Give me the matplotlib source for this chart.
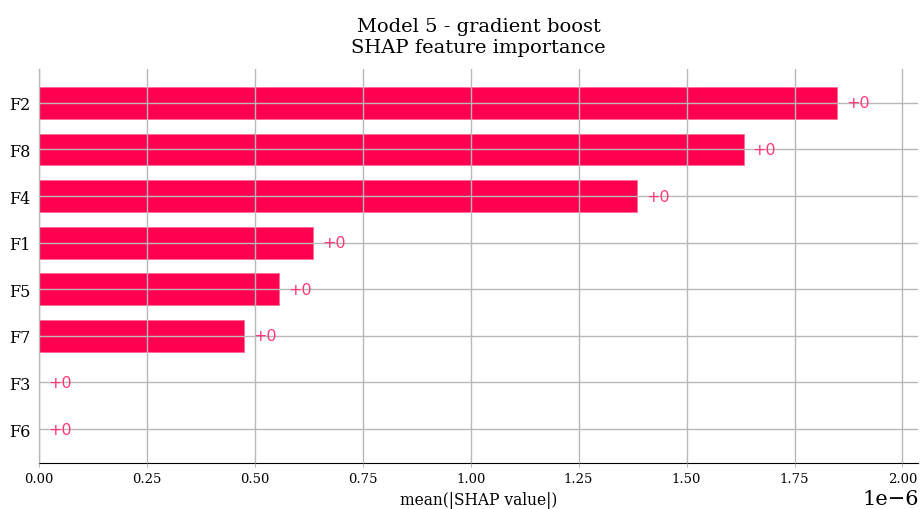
import matplotlib.pyplot as plt
import numpy as np

features = ['F2', 'F8', 'F4', 'F1', 'F5', 'F7', 'F3', 'F6']
importance = [1.849e-6, 1.632e-6, 1.386e-6, 0.635e-6, 0.556e-6, 0.475e-6, 0.0, 0.0]
value_labels = ['+0'] * len(features)

plt.rcParams['font.family'] = 'DejaVu Serif'

fig, ax = plt.subplots(figsize=(9.24, 5.10), dpi=100)
y_pos = np.arange(len(features))
ax.barh(y_pos, importance, height=0.68, color='#ff0051', edgecolor='#ff6b93', linewidth=0.6)

# value annotations next to each bar
for y, v, lab in zip(y_pos, importance, value_labels):
    ax.annotate(lab, (v, y), xytext=(6.5, 0), textcoords='offset points',
                va='center', ha='left', color='#ff3a76', fontsize=11.5,
                family='DejaVu Sans')

ax.set_yticks(y_pos)
ax.set_yticklabels(features, fontsize=11.5)
ax.set_ylim(len(features) - 0.27, -0.73)
ax.set_xlim(0, 2.037e-6)
ax.grid(True, color='#b8b8b8', linewidth=1)
ax.set_axisbelow(False)
ax.tick_params(axis='x', labelsize=9.5, length=3, color='#b8b8b8')
ax.tick_params(axis='y', length=0, pad=6)
ax.xaxis.get_offset_text().set_fontsize(15)
ax.set_xlabel('mean(|SHAP value|)', fontsize=11.2, labelpad=4)
ax.spines['top'].set_visible(False)
ax.spines['right'].set_visible(False)
ax.set_title('Model 5 - gradient boost\nSHAP feature importance', fontsize=14, pad=12)

plt.subplots_adjust(left=0.042, right=0.994, top=0.863, bottom=0.09)
plt.savefig('out.png')
